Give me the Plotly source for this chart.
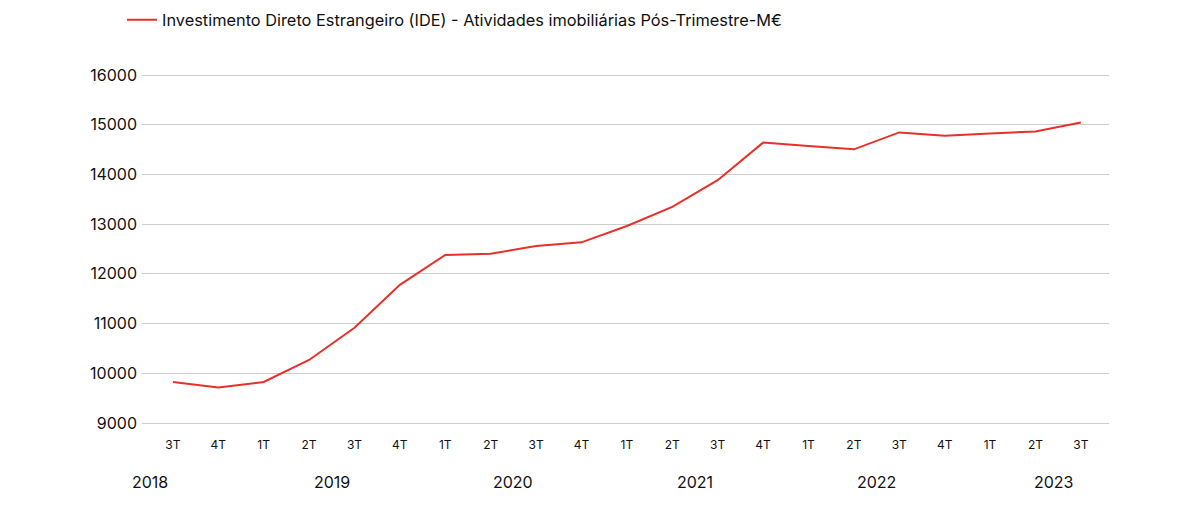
import plotly.graph_objects as go

quarters = ["3T", "4T", "1T", "2T", "3T", "4T", "1T", "2T", "3T", "4T", "1T",
            "2T", "3T", "4T", "1T", "2T", "3T", "4T", "1T", "2T", "3T"]
values = [9825, 9712, 9825, 10268, 10915, 11780, 12380, 12405, 12560, 12634, 12962,
          13348, 13885, 14640, 14572, 14505, 14845, 14778, 14824, 14866, 15046]
years = ["2018", "2019", "2020", "2021", "2022", "2023"]
year_pos = [-0.5, 3.5, 7.5, 11.5, 15.5, 19.4]
series_name = "Investimento Direto Estrangeiro (IDE) - Atividades imobiliárias Pós-Trimestre-M€"

x = list(range(len(quarters)))
FONT = "Inter"

W, H = 1184, 496
L, R, T, B = 134, 1101, 67, 415  # plot area in page pixels (minus 8px body margin)
pad = 3  # value padding so the edge gridlines are drawn
ppu = (B - T) / 7000.0

fig = go.Figure()
fig.add_trace(go.Scatter(x=x, y=values, mode="lines", name=series_name,
                         line=dict(color="#e8302a", width=2)))

for yr, p in zip(years, year_pos):
    fig.add_annotation(x=p, y=(B - 471) / (B - T + 2 * pad), xref="x", yref="paper",
                       yanchor="middle", text=yr, showarrow=False,
                       font=dict(family=FONT, size=16, color="#111"))

fig.update_layout(
    width=W, height=H,
    paper_bgcolor="white", plot_bgcolor="white",
    margin=dict(l=L, r=W - R, t=T - pad, b=H - B - pad, autoexpand=False),
    font=dict(family=FONT, color="#111"),
    showlegend=True,
    legend=dict(x=114 / W, xref="container", y=1 - 12 / H, yref="container",
                xanchor="left", yanchor="middle", orientation="h",
                font=dict(family=FONT, size=16.35, color="#111")),
    xaxis=dict(range=[-0.68, 20.62], tickmode="array", tickvals=x, ticktext=quarters,
               showgrid=False, zeroline=False, showline=False, ticks="",
               ticklabelstandoff=10,
               tickfont=dict(family=FONT, size=12, color="#111")),
    yaxis=dict(range=[9000 - pad / ppu, 16000 + pad / ppu], tickmode="linear",
               tick0=9000, dtick=1000, showgrid=True, gridcolor="#cccccc",
               gridwidth=1, zeroline=False, showline=False, ticks="",
               tickformat="d", ticklabelstandoff=4,
               tickfont=dict(family=FONT, size=16, color="#111")),
)

fig.write_html("out.html")
